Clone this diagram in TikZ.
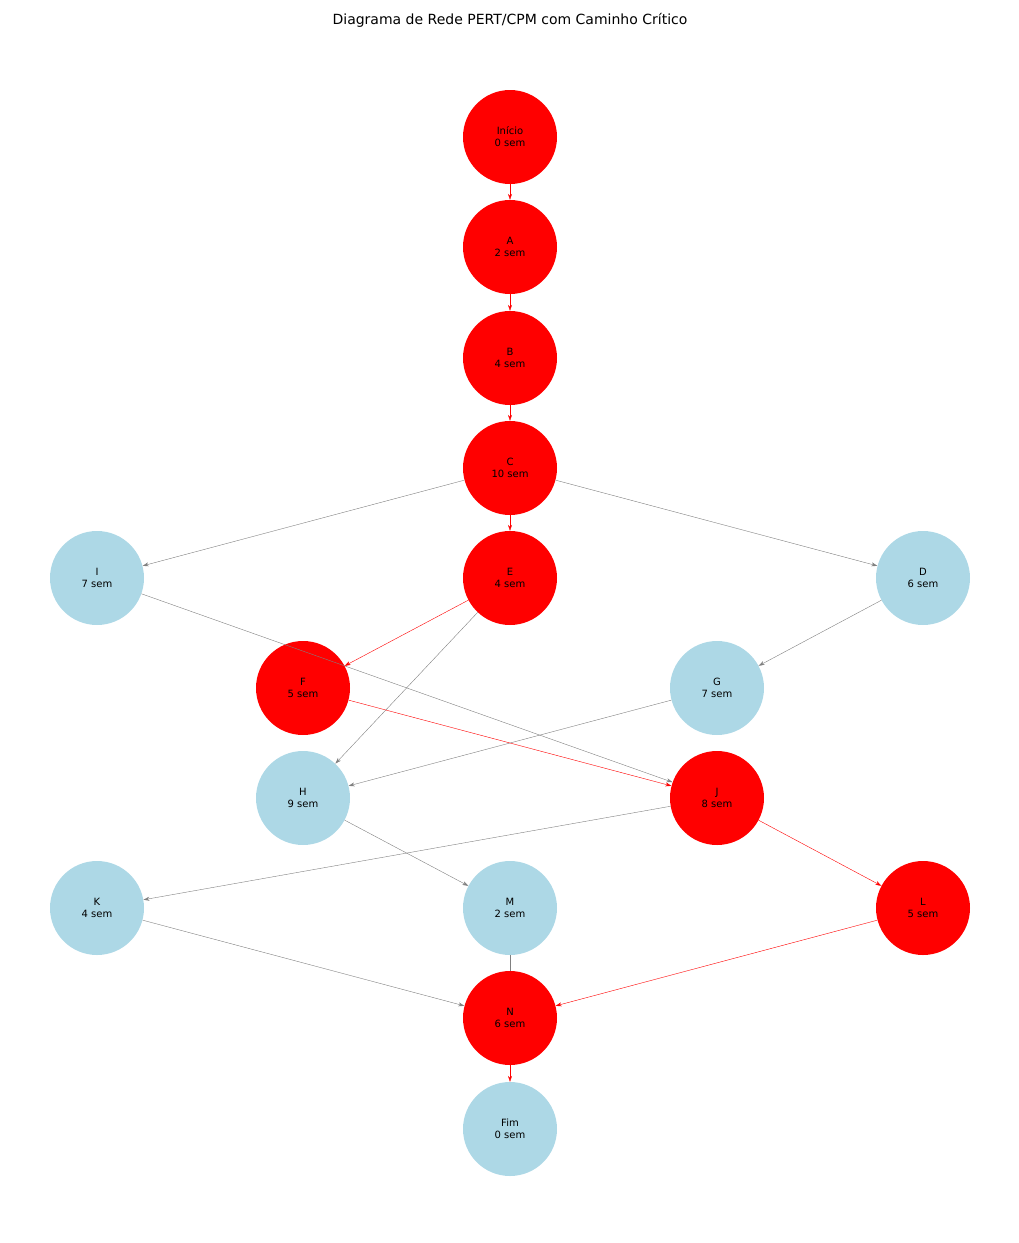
\documentclass[tikz,border=0pt]{standalone}
\usepackage{fontspec}
\setmainfont{DejaVu Sans}
\usetikzlibrary{arrows.meta}
\definecolor{lb}{HTML}{ADD8E6}
\begin{document}
\begin{tikzpicture}[x=1pt,y=-1pt,
  crit/.style={circle,fill=red,minimum size=94pt,inner sep=0pt,align=center,font=\fontsize{10}{12}\selectfont},
  norm/.style={crit,fill=lb},
  ce/.style={draw=red,-{Stealth[length=6pt,width=4pt]}},
  ge/.style={draw=gray,-{Stealth[length=6pt,width=4pt]}}]
\useasboundingbox (0,0) rectangle (1019,1243);
\node[font=\fontsize{14}{16}\selectfont] (title) at (510,20) {Diagrama de Rede PERT/CPM com Caminho Crítico};
\node[crit] (ini) at (510,137) {Início\\0 sem};
\node[crit] (A) at (510,247) {A\\2 sem};
\node[crit] (B) at (510,358) {B\\4 sem};
\node[crit] (C) at (510,468) {C\\10 sem};
\node[norm] (I) at (97,578) {I\\7 sem};
\node[crit] (E) at (510,578) {E\\4 sem};
\node[norm] (D) at (923,578) {D\\6 sem};
\node[crit] (F) at (303,688) {F\\5 sem};
\node[norm] (G) at (717,688) {G\\7 sem};
\node[norm] (H) at (303,798) {H\\9 sem};
\node[crit] (J) at (717,798) {J\\8 sem};
\node[norm] (K) at (97,908) {K\\4 sem};
\node[norm] (M) at (510,908) {M\\2 sem};
\node[crit] (L) at (923,908) {L\\5 sem};
\node[crit] (N) at (510,1018) {N\\6 sem};
\node[norm] (fim) at (510,1129) {Fim\\0 sem};
\draw[ce] (ini)--(A);
\draw[ce] (A)--(B);
\draw[ce] (B)--(C);
\draw[ce] (C)--(E);
\draw[ge] (C)--(I);
\draw[ge] (C)--(D);
\draw[ge] (I)--(J);
\draw[ce] (E)--(F);
\draw[ge] (E)--(H);
\draw[ge] (D)--(G);
\draw[ge] (G)--(H);
\draw[ce] (F)--(J);
\draw[ge] (J)--(K);
\draw[ce] (J)--(L);
\draw[ge] (H)--(M);
\draw[ge] (K)--(N);
\draw[draw=gray] (M)--(N);
\draw[ce] (L)--(N);
\draw[ce] (N)--(fim);
\end{tikzpicture}
\end{document}
